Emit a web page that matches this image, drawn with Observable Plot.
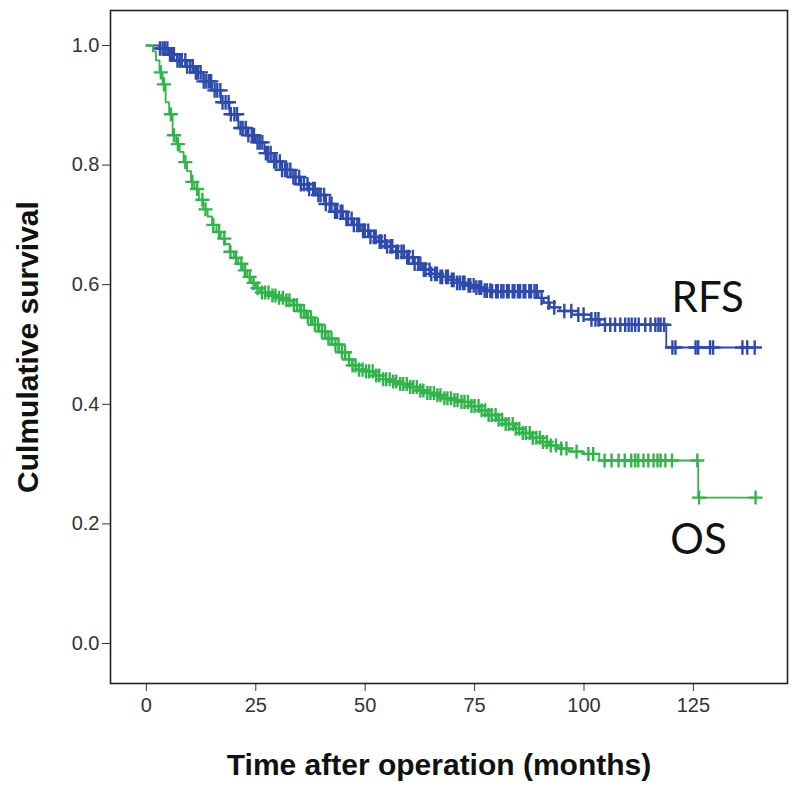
<!DOCTYPE html>
<html>
<head>
<meta charset="utf-8">
<script src="https://cdn.jsdelivr.net/npm/d3@7"></script>
<script src="https://cdn.jsdelivr.net/npm/@observablehq/plot@0.6"></script>
<style>
  html, body { margin: 0; padding: 0; background: #fff; }
</style>
</head>
<body>
<div id="chart"></div>
<script>
// ---- Data ----
const xTicks = [0, 25, 50, 75, 100, 125];
const yTicks = [0, 0.2, 0.4, 0.6, 0.8, 1.0];
const seriesNames = ["RFS", "OS"];

// RFS: Kaplan-Meier step points (months, survival)
const rfsTime = [0, 3, 5, 7, 9, 11, 13, 15, 17, 19, 21, 23, 25, 27, 29, 31, 33, 35, 37, 39, 41, 43, 45, 47, 49, 51, 53, 55, 57, 59, 61, 63, 65, 67, 69, 71, 73, 75, 77, 79, 89.6, 90.8, 92.2, 94.5, 97.2, 101.5, 103.6, 118.8];
const rfsSurv = [1.0, 0.995, 0.985, 0.975, 0.965, 0.955, 0.94, 0.925, 0.905, 0.885, 0.862, 0.85, 0.838, 0.82, 0.806, 0.792, 0.78, 0.768, 0.76, 0.75, 0.735, 0.722, 0.71, 0.70, 0.69, 0.68, 0.672, 0.664, 0.655, 0.646, 0.635, 0.625, 0.618, 0.613, 0.608, 0.603, 0.599, 0.595, 0.59, 0.589, 0.578, 0.57, 0.562, 0.556, 0.55, 0.542, 0.533, 0.495];
// RFS censored times (months)
const rfsCensor = [3.1, 3.7, 4.2, 4.8, 5.4, 5.9, 6.3, 7.1, 7.6, 8.1, 8.9, 9.3, 10.0, 10.6, 11.3, 11.8, 12.4, 13.1, 13.7, 14.3, 14.8, 15.6, 16.2, 16.9, 17.4, 18.1, 18.8, 19.3, 20.1, 20.7, 21.5, 22.0, 22.7, 23.3, 24.1, 24.6, 25.4, 25.9, 26.5, 27.3, 27.8, 28.4, 29.2, 29.7, 30.5, 31.0, 31.7, 32.2, 32.9, 33.6, 34.1, 34.9, 35.3, 36.0, 36.8, 37.2, 38.1, 38.5, 39.3, 39.8, 40.6, 41.0, 41.9, 42.3, 43.1, 43.6, 44.4, 44.8, 45.7, 46.1, 46.9, 47.4, 48.2, 48.6, 49.5, 49.9, 50.7, 51.2, 52.0, 52.4, 53.3, 53.7, 54.5, 55.0, 55.8, 56.2, 57.1, 57.5, 58.3, 58.8, 59.6, 60.0, 60.9, 61.3, 62.1, 62.6, 63.4, 63.8, 64.7, 65.1, 66.0, 66.4, 67.2, 67.6, 68.5, 68.9, 69.8, 70.2, 71.0, 71.6, 72.3, 72.7, 73.6, 74.0, 74.8, 75.4, 76.1, 76.5, 77.3, 77.8, 78.6, 79.0, 79.9, 80.3, 81.1, 81.6, 82.4, 82.8, 83.7, 84.1, 84.9, 85.4, 86.2, 86.6, 87.5, 87.9, 88.7, 89.2, 90.3, 91.9, 93.2, 95.5, 97.1, 98.7, 99.9, 101.7, 102.6, 103.3, 104.8, 106.0, 107.1, 108.3, 109.4, 110.2, 110.9, 111.7, 112.5, 114.0, 115.2, 116.3, 117.0, 117.5, 118.3, 120.2, 120.9, 125.5, 126.1, 128.8, 129.5, 136.2, 137.3, 139.0];

// OS: Kaplan-Meier step points (months, survival)
const osTime = [0, 1.5, 2.2, 3, 3.7, 4.4, 5.2, 6, 6.8, 7.6, 8.5, 9.3, 10.2, 11, 12, 13, 14, 15, 16, 17, 18, 19, 20, 21, 22, 23, 24, 25, 26, 28, 30, 32, 33.5, 35, 36.5, 38, 39.5, 41, 42.5, 44, 45.5, 47, 48.5, 50, 52, 54, 56, 58, 60, 62, 64, 66, 68, 70, 72, 74, 76, 78, 80, 82, 84, 86, 88, 90, 92, 94, 96.5, 100, 103.5, 126.1];
const osSurv = [1.0, 0.99, 0.975, 0.955, 0.935, 0.905, 0.885, 0.85, 0.835, 0.822, 0.805, 0.79, 0.772, 0.76, 0.742, 0.726, 0.714, 0.70, 0.688, 0.677, 0.668, 0.655, 0.645, 0.635, 0.624, 0.613, 0.603, 0.594, 0.587, 0.582, 0.578, 0.574, 0.566, 0.556, 0.545, 0.533, 0.522, 0.51, 0.50, 0.487, 0.475, 0.465, 0.458, 0.455, 0.448, 0.442, 0.438, 0.434, 0.429, 0.423, 0.419, 0.415, 0.41, 0.407, 0.404, 0.397, 0.39, 0.382, 0.374, 0.367, 0.359, 0.352, 0.344, 0.337, 0.331, 0.326, 0.321, 0.317, 0.306, 0.244];
// OS censored times (months)
const osCensor = [3.3, 4.0, 5.6, 6.3, 7.2, 8.9, 10.5, 11.6, 12.8, 13.5, 15.3, 16.6, 17.8, 19.2, 20.5, 21.7, 22.5, 23.6, 24.5, 25.4, 26.4, 27.1, 27.9, 28.8, 29.5, 30.3, 31.2, 32.0, 32.7, 33.7, 34.4, 35.3, 36.0, 36.9, 37.6, 38.5, 39.2, 40.1, 40.8, 41.6, 42.3, 43.2, 43.9, 44.7, 45.4, 46.3, 47.1, 47.8, 48.6, 49.4, 50.2, 50.9, 51.7, 52.5, 53.2, 54.1, 54.8, 55.6, 56.4, 57.1, 58.0, 58.7, 59.5, 60.3, 61.0, 61.8, 62.6, 63.3, 64.2, 64.9, 65.7, 66.5, 67.2, 68.1, 68.8, 69.6, 70.4, 71.1, 72.0, 72.7, 73.5, 74.3, 75.0, 75.9, 76.6, 77.4, 78.2, 78.9, 79.8, 80.5, 81.3, 82.1, 82.8, 83.7, 84.4, 85.2, 86.0, 86.7, 87.6, 88.3, 89.1, 89.9, 90.6, 91.5, 92.4, 93.6, 94.8, 96.0, 98.3, 101.0, 102.1, 104.7, 106.3, 107.9, 109.3, 110.8, 111.7, 112.4, 113.6, 114.7, 115.9, 116.8, 117.5, 118.6, 120.1, 125.9, 126.3, 139.2];

// ---- Build tables ----
function survAt(times, survs, t) {
  let s = survs[0];
  for (let i = 0; i < times.length; i++) if (times[i] <= t) s = survs[i];
  return s;
}
function buildLine(times, survs, censor, name) {
  const rows = times.map((t, i) => ({time: t, surv: survs[i], series: name}));
  const tMax = d3.max(censor);
  rows.push({time: tMax, surv: survAt(times, survs, tMax), series: name});
  return rows;
}
function buildMarks(times, survs, censor, name) {
  return censor.map(t => ({time: t, surv: survAt(times, survs, t), series: name}));
}
const rfsLine = buildLine(rfsTime, rfsSurv, rfsCensor, seriesNames[0]);
const osLine = buildLine(osTime, osSurv, osCensor, seriesNames[1]);
const rfsMarks = buildMarks(rfsTime, rfsSurv, rfsCensor, seriesNames[0]);
const osMarks = buildMarks(osTime, osSurv, osCensor, seriesNames[1]);

const BLUE = "#2e4bab";
const GREEN = "#33b34c";

const chart = Plot.plot({
  width: 800,
  height: 789,
  marginLeft: 110,
  marginRight: 13,
  marginTop: 10,
  marginBottom: 106,
  style: {fontFamily: "'Liberation Sans', Arial, sans-serif", fontSize: "20px", color: "#333", background: "#fff"},
  x: {domain: [-8.2, 146.5], ticks: xTicks, tickSize: 8, tickPadding: 6, label: null},
  y: {domain: [-0.0669, 1.0585], ticks: yTicks, tickSize: 8, tickPadding: 3, tickFormat: d3.format(".1f"), label: null},
  marks: [
    Plot.frame({stroke: "#222", strokeWidth: 1.6}),
    Plot.line(rfsLine, {x: "time", y: "surv", curve: "step-after", stroke: BLUE, strokeWidth: 1.8}),
    Plot.dot(rfsMarks, {x: "time", y: "surv", symbol: "plus", r: 4.8, stroke: BLUE, strokeWidth: 2.4}),
    Plot.line(osLine, {x: "time", y: "surv", curve: "step-after", stroke: GREEN, strokeWidth: 1.8}),
    Plot.dot(osMarks, {x: "time", y: "surv", symbol: "plus", r: 4.6, stroke: GREEN, strokeWidth: 2.4}),
    Plot.text([rfsLine[rfsLine.length - 1]], {x: "time", y: "surv", text: "series", dx: -47, dy: -49, fontSize: 42, fontFamily: "Lato, 'Open Sans', sans-serif", fill: "#111"}),
    Plot.text([osLine[osLine.length - 1]], {x: "time", y: "surv", text: "series", dx: -57, dy: 43, fontSize: 42, fontFamily: "Lato, 'Open Sans', sans-serif", fill: "#111"}),
    Plot.text(["Time after operation (months)"], {frameAnchor: "bottom", dx: -10, dy: 82, textAnchor: "middle", lineAnchor: "middle", fontSize: 30, fontWeight: "bold", fill: "#111"}),
    Plot.text(["Culmulative survival"], {frameAnchor: "left", dx: -82, textAnchor: "middle", lineAnchor: "middle", rotate: -90, fontSize: 30, fontWeight: "bold", fill: "#111"})
  ]
});
document.getElementById("chart").appendChild(chart);
</script>
</body>
</html>
